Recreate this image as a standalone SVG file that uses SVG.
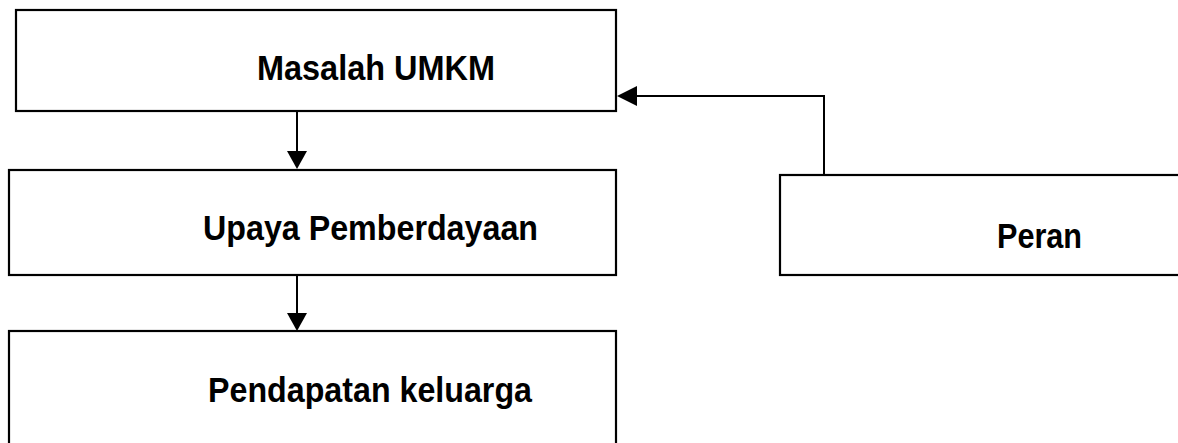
<svg xmlns="http://www.w3.org/2000/svg" width="1178" height="443" viewBox="0 0 1178 443">
<style>
.box{fill:#fff;stroke:#000;stroke-width:2.2}
.lbl{font-family:"Liberation Sans",Arial,sans-serif;font-weight:bold;font-size:35px;fill:#000}
.con{fill:none;stroke:#000;stroke-width:2}
</style>
<rect width="1178" height="443" fill="#fff"/>
<g id="masalah">
<rect class="box" x="16" y="10" width="600" height="101"/>
<text class="lbl" x="257" y="80" textLength="238" lengthAdjust="spacingAndGlyphs">Masalah UMKM</text>
</g>
<g id="upaya">
<rect class="box" x="9" y="170" width="607" height="105"/>
<text class="lbl" x="203" y="240" textLength="335" lengthAdjust="spacingAndGlyphs">Upaya Pemberdayaan</text>
</g>
<g id="pendapatan">
<rect class="box" x="9" y="331" width="607" height="120"/>
<text class="lbl" x="208" y="402" textLength="324" lengthAdjust="spacingAndGlyphs">Pendapatan keluarga</text>
</g>
<g id="peran">
<rect class="box" x="780" y="175" width="410" height="100"/>
<text class="lbl" x="997" y="248" textLength="85" lengthAdjust="spacingAndGlyphs">Peran</text>
</g>
<g id="connectors">
<path class="con" d="M297,111 L297,152"/>
<path d="M287,151 L307,151 L297,169 Z" fill="#000"/>
<path class="con" d="M297,275 L297,314"/>
<path d="M287,313 L307,313 L297,331 Z" fill="#000"/>
<path class="con" d="M824,175 L824,96 L636,96"/>
<path d="M637,86 L637,106 L617,96 Z" fill="#000"/>
</g>
</svg>
